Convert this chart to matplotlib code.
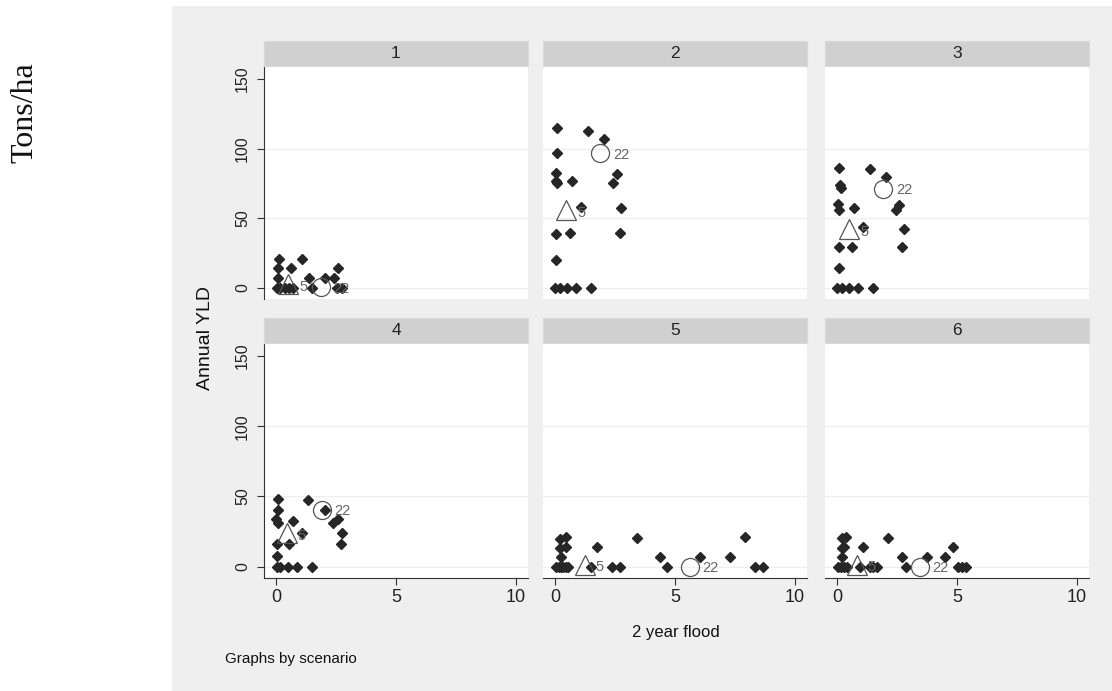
import matplotlib

matplotlib.use("Agg")
import matplotlib.pyplot as plt
from matplotlib.patches import Rectangle

plt.rcParams["font.family"] = ["Liberation Sans", "DejaVu Sans"]

# --- data: x = 2 year flood, y = Annual YLD, one set per scenario ---
scenarios = ["1", "2", "3", "4", "5", "6"]

s1_x = [0.14, 1.07, 0.1, 0.63, 2.6, 0.1, 1.39, 2.04, 2.43,
        0.03, 0.17, 0.37, 0.55, 0.72, 1.49, 2.53, 2.74]
s1_y = [21, 21, 14, 14.4, 14.4, 7, 7, 7, 7,
        0, 0, 0, 0, 0, 0, 0, 0]

s2_x = [0.08, 1.38, 2.04, 0.1, 0.03, 2.58, 0.08, 0.03, 0.72, 2.42, 1.07, 2.76,
        0.03, 0.63, 2.71, 0.03, 0.01, 0.2, 0.51, 0.86, 1.49]
s2_y = [114.7, 112.8, 107, 96.7, 82.5, 82, 75.4, 77, 76.6, 75.4, 58, 57,
        38.8, 39.5, 39.5, 20, 0, 0, 0, 0, 0]

s3_x = [0.08, 1.38, 2.04, 0.12, 0.18, 0.03, 0.1, 0.72, 2.6, 2.46, 1.07, 2.81,
        0.08, 0.63, 2.7, 0.08, 0.01, 0.2, 0.51, 0.86, 1.49]
s3_y = [86, 85.3, 79.6, 73.5, 71.5, 60, 56, 57, 59.6, 56, 43.5, 42.3,
        29, 29, 29, 14.4, 0, 0, 0, 0, 0]

s4_x = [0.07, 1.32, 2.04, 0.07, 0.0, 0.1, 0.72, 2.39, 2.6, 1.07, 2.76,
        0.03, 0.55, 2.7, 0.03, 0.03, 0.17, 0.51, 0.86, 1.51]
s4_y = [48, 47.3, 40.6, 40.6, 34.2, 31, 32.3, 31.2, 34.2, 24, 24,
        16.3, 16.3, 16.3, 8, 0, 0, 0, 0, 0]

s5_x = [0.2, 0.47, 0.2, 0.47, 1.76, 3.42, 7.9, 0.24, 4.39, 6.05, 7.28,
        0.05, 0.15, 0.25, 0.35, 0.45, 0.55, 1.49, 2.37, 2.7, 4.68, 8.32, 8.67]
s5_y = [19.8, 21, 13.4, 13.8, 13.8, 20.6, 21.5, 6.7, 6.7, 6.7, 6.7,
        0, 0, 0, 0, 0, 0, 0, 0, 0, 0, 0, 0]

s6_x = [0.2, 0.38, 0.2, 0.29, 1.1, 2.11, 4.82, 0.2, 2.7, 3.74, 4.5,
        0.05, 0.15, 0.3, 0.4, 0.96, 1.38, 1.51, 1.65, 2.87, 5.05, 5.2, 5.36]
s6_y = [20.3, 21, 13.4, 14.3, 14.3, 20.6, 14.3, 6.7, 6.7, 6.7, 6.7,
        0, 0, 0, 0, 0, 0, 0, 0, 0, 0, 0, 0]

# highlighted observations (id 5 = triangle, id 22 = circle)
obs5_x = [0.5, 0.47, 0.5, 0.45, 1.24, 0.82]
obs5_y = [2.5, 56, 42, 24, 1.5, 1.5]
obs22_x = [1.87, 1.89, 1.93, 1.9, 5.61, 3.46]
obs22_y = [0.5, 96.7, 71.1, 40.6, 0, 0]

series_x = [s1_x, s2_x, s3_x, s4_x, s5_x, s6_x]
series_y = [s1_y, s2_y, s3_y, s4_y, s5_y, s6_y]

y_ticks = [0, 50, 100, 150]
x_ticks = [0, 5, 10]

W, H = 1112, 691
fig = plt.figure(figsize=(W / 100, H / 100), dpi=100)
fig.patch.set_facecolor("white")

# Stata graph region (light grey), drawn behind the panels
fig.patches.append(Rectangle((172 / W, 0), 1 - 172 / W, 1 - 6 / H,
                             transform=fig.transFigure, facecolor="#efefef",
                             edgecolor="none", zorder=-10))

col_left = [264, 543, 825]
col_w = 264
row_top = [67, 344]
row_h = [232, 234]
strip_h = 25

for i, name in enumerate(scenarios):
    r, c = divmod(i, 3)
    left = col_left[c] / W
    bottom = 1 - (row_top[r] + row_h[r]) / H
    ax = fig.add_axes([left, bottom, col_w / W, row_h[r] / H])
    ax.set_facecolor("white")

    # strip header
    sax = fig.add_axes([left, 1 - (row_top[r] - 1) / H, col_w / W, strip_h / H])
    sax.set_facecolor("#d0d0d0")
    sax.set_xticks([])
    sax.set_yticks([])
    for sp in sax.spines.values():
        sp.set_color("#dadada")
    sax.text(0.5, 0.5, name, ha="center", va="center", fontsize=12.5,
             color="#222222", transform=sax.transAxes)

    ax.set_xlim(-0.5, 10.5)
    ax.set_ylim(-8, 158.5)
    for y in [0, 50, 100]:
        ax.axhline(y, color="#e8f0f1", lw=1.0, zorder=0)

    ax.plot(series_x[i], series_y[i], linestyle="none", marker="D",
            markersize=4.6, color="#262626", zorder=3)
    ax.plot(obs5_x[i], obs5_y[i], linestyle="none", marker="^", markersize=14,
            markerfacecolor="none", markeredgecolor="#555555", mew=0.9, zorder=4)
    ax.plot(obs22_x[i], obs22_y[i], linestyle="none", marker="o", markersize=13,
            markerfacecolor="none", markeredgecolor="#555555", mew=0.9, zorder=4)
    ax.annotate("5", (obs5_x[i], obs5_y[i]), xytext=(8, -2), textcoords="offset points",
                ha="left", va="center", fontsize=10.5, color="#666666", zorder=5)
    ax.annotate("22", (obs22_x[i], obs22_y[i]), xytext=(9, -1), textcoords="offset points",
                ha="left", va="center", fontsize=10.5, color="#666666", zorder=5)

    for sp in ["top", "right"]:
        ax.spines[sp].set_visible(False)
    ax.spines["left"].set_visible(c == 0)
    ax.spines["bottom"].set_visible(r == 1)
    ax.spines["left"].set_color("#333333")
    ax.spines["bottom"].set_color("#333333")

    if c == 0:
        ax.set_yticks(y_ticks)
        ax.set_yticklabels([str(v) for v in y_ticks], rotation=90, va="center",
                           fontsize=11.5, color="#222222")
        ax.tick_params(axis="y", length=5, color="#333333", pad=5)
    else:
        ax.set_yticks([])
    if r == 1:
        ax.set_xticks(x_ticks)
        ax.set_xticklabels([str(v) for v in x_ticks], fontsize=13, color="#222222")
        ax.tick_params(axis="x", length=5, color="#333333", pad=3)
    else:
        ax.set_xticks([])

fig.text(205 / W, 1 - 338 / H, "Annual YLD", rotation=90, ha="center", va="center",
         fontsize=14, color="#111111")
fig.text(676 / W, 1 - 633 / H, "2 year flood", ha="center", va="center",
         fontsize=12, color="#111111")
fig.text(225 / W, 1 - 659 / H, "Graphs by scenario", ha="left", va="center",
         fontsize=11, color="#111111")
fig.text(25 / W, 1 - 113 / H, "Tons/ha", rotation=90, ha="center", va="center",
         fontsize=23, family=["Liberation Serif", "DejaVu Serif"], color="#111111")

fig.savefig("out.png", dpi=100, facecolor=fig.get_facecolor())
